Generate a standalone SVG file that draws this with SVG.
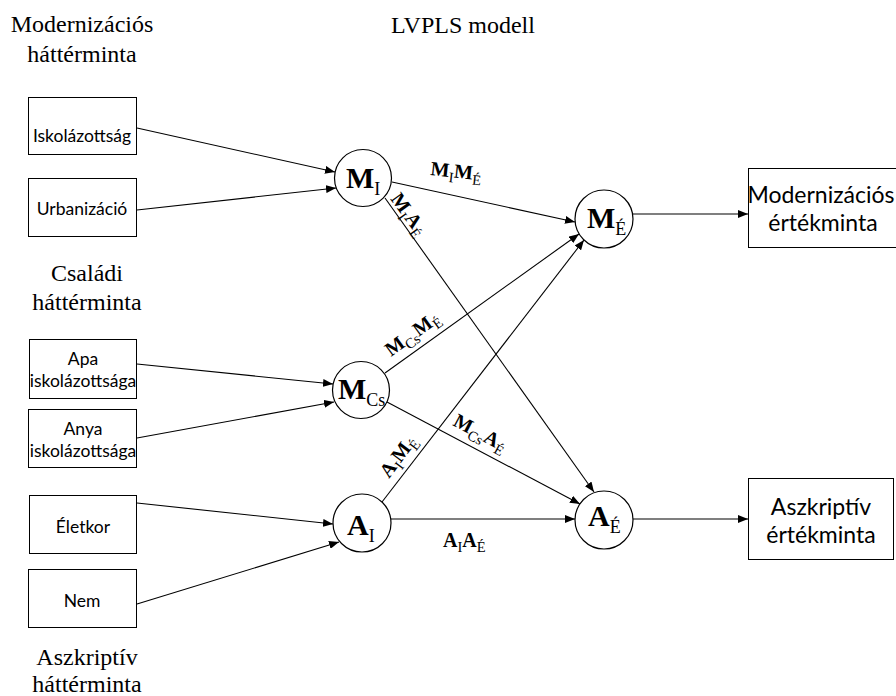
<svg xmlns="http://www.w3.org/2000/svg" width="896" height="696" viewBox="0 0 896 696">
  <defs>
    <marker id="arrow" viewBox="0 0 10 8" refX="10" refY="4" markerWidth="10" markerHeight="8" markerUnits="userSpaceOnUse" orient="auto">
      <path d="M0,0 L10,4 L0,8 z" fill="#000"/>
    </marker>
    <style>
      .box { fill: #fff; stroke: #000; stroke-width: 1; }
      .node { fill: #fff; stroke: #000; stroke-width: 1.2; }
      .edge { fill: none; stroke: #000; stroke-width: 1.1; marker-end: url(#arrow); }
      .lbl { font-family: Lato, "Liberation Sans", sans-serif; font-size: 17.5px; fill: #000; text-anchor: middle; }
      .big { font-family: Lato, "Liberation Sans", sans-serif; font-size: 23px; fill: #000; text-anchor: middle; }
      .head { font-family: "Liberation Serif", "Times New Roman", serif; font-size: 24px; fill: #000; text-anchor: middle; }
      .nl { font-family: "Liberation Serif", serif; font-size: 30px; font-weight: bold; fill: #000; }
      .nl .sub { font-size: 18px; font-weight: normal; }
      .el { font-family: "Liberation Serif", serif; font-size: 20px; font-weight: bold; fill: #000; }
      .el .sub { font-size: 14.5px; font-weight: normal; }
    </style>
  </defs>

  <!-- group headings -->
  <g id="headings">
    <text class="head" x="82" y="32">Modernizációs</text>
    <text class="head" x="82" y="62">háttérminta</text>
    <text class="head" x="463" y="33">LVPLS modell</text>
    <text class="head" x="87" y="281">Családi</text>
    <text class="head" x="87" y="310">háttérminta</text>
    <text class="head" x="87" y="665">Aszkriptív</text>
    <text class="head" x="87" y="692">háttérminta</text>
  </g>

  <!-- connectors -->
  <g id="connectors">
    <line class="edge" x1="137" y1="128" x2="335" y2="172"/>
    <line class="edge" x1="137" y1="210" x2="336" y2="188"/>
    <line class="edge" x1="137" y1="364" x2="333" y2="384"/>
    <line class="edge" x1="137" y1="438" x2="334" y2="402"/>
    <line class="edge" x1="137" y1="503" x2="333" y2="524"/>
    <line class="edge" x1="137" y1="604" x2="339" y2="542"/>
    <line class="edge" x1="392" y1="182" x2="575" y2="222"/>
    <line class="edge" x1="385" y1="198" x2="594" y2="492"/>
    <line class="edge" x1="385" y1="373" x2="579" y2="234"/>
    <line class="edge" x1="387" y1="402" x2="580" y2="504"/>
    <line class="edge" x1="382" y1="502" x2="584" y2="240"/>
    <line class="edge" x1="391" y1="519" x2="575" y2="519"/>
    <line class="edge" x1="633" y1="214" x2="748" y2="214"/>
    <line class="edge" x1="633" y1="519" x2="748" y2="519"/>
  </g>

  <!-- connector labels -->
  <g id="edge-labels">
    <text class="el" transform="translate(430,175) rotate(6)">M<tspan class="sub" dy="5">I</tspan><tspan dy="-5">M</tspan><tspan class="sub" dy="5">É</tspan></text>
    <text class="el" transform="translate(390,199) rotate(54)">M<tspan class="sub" dy="5">I</tspan><tspan dy="-5">A</tspan><tspan class="sub" dy="5">É</tspan></text>
    <text class="el" transform="translate(391,357) rotate(-36)">M<tspan class="sub" dy="5">Cs</tspan><tspan dy="-5">M</tspan><tspan class="sub" dy="5">É</tspan></text>
    <text class="el" transform="translate(452,425) rotate(28)">M<tspan class="sub" dy="5">Cs</tspan><tspan dy="-5">A</tspan><tspan class="sub" dy="5">É</tspan></text>
    <text class="el" transform="translate(389,479) rotate(-53)">A<tspan class="sub" dy="5">I</tspan><tspan dy="-5">M</tspan><tspan class="sub" dy="5">É</tspan></text>
    <text class="el" x="443" y="547">A<tspan class="sub" dy="5">I</tspan><tspan dy="-5">A</tspan><tspan class="sub" dy="5">É</tspan></text>
  </g>

  <!-- indicator boxes -->
  <g id="iskolazottsag">
    <rect class="box" x="28.5" y="97.5" width="108" height="57"/>
    <text class="lbl" x="82" y="142">Iskolázottság</text>
  </g>
  <g id="urbanizacio">
    <rect class="box" x="28.5" y="178.5" width="108" height="58"/>
    <text class="lbl" x="82" y="215">Urbanizáció</text>
  </g>
  <g id="apa">
    <rect class="box" x="29.5" y="339.5" width="107" height="59"/>
    <text class="lbl" x="83" y="365">Apa</text>
    <text class="lbl" x="83" y="387">iskolázottsága</text>
  </g>
  <g id="anya">
    <rect class="box" x="28.5" y="409.5" width="108" height="58"/>
    <text class="lbl" x="83" y="435">Anya</text>
    <text class="lbl" x="83" y="457">iskolázottsága</text>
  </g>
  <g id="eletkor">
    <rect class="box" x="29.5" y="495.5" width="107" height="58"/>
    <text class="lbl" x="83" y="533">Életkor</text>
  </g>
  <g id="nem">
    <rect class="box" x="28.5" y="569.5" width="108" height="58"/>
    <text class="lbl" x="82" y="607">Nem</text>
  </g>

  <!-- latent variables -->
  <g id="M_I">
    <circle class="node" cx="363" cy="178" r="28.5"/>
    <text class="nl" x="346" y="188">M<tspan class="sub" dy="7">I</tspan></text>
  </g>
  <g id="M_Cs">
    <circle class="node" cx="361" cy="390" r="28.5"/>
    <text class="nl" x="338" y="399">M<tspan class="sub" dy="7">Cs</tspan></text>
  </g>
  <g id="A_I">
    <circle class="node" cx="362" cy="523" r="29"/>
    <text class="nl" x="347" y="535">A<tspan class="sub" dy="7">I</tspan></text>
  </g>
  <g id="M_E">
    <circle class="node" cx="604" cy="219" r="29"/>
    <text class="nl" x="587" y="228">M<tspan class="sub" dy="7">É</tspan></text>
  </g>
  <g id="A_E">
    <circle class="node" cx="604" cy="520" r="29"/>
    <text class="nl" x="588" y="526">A<tspan class="sub" dy="7">É</tspan></text>
  </g>

  <!-- outcome boxes -->
  <g id="modernizacios-ertekminta">
    <rect class="box" x="748.5" y="168.5" width="150" height="79"/>
    <text class="big" x="821" y="203">Modernizációs</text>
    <text class="big" x="823" y="231">értékminta</text>
  </g>
  <g id="aszkriptiv-ertekminta">
    <rect class="box" x="748.5" y="478.5" width="145" height="81"/>
    <text class="big" x="821" y="515">Aszkriptív</text>
    <text class="big" x="821" y="543">értékminta</text>
  </g>
</svg>
